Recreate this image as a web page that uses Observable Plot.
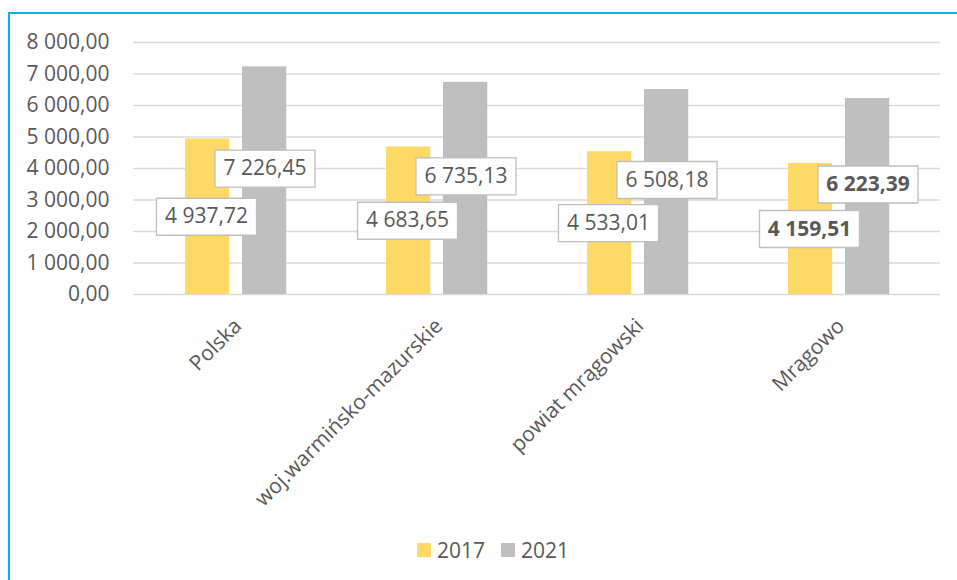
<!DOCTYPE html>
<html>
<head>
<meta charset="utf-8">
<script src="https://cdn.jsdelivr.net/npm/d3@7"></script>
<script src="https://cdn.jsdelivr.net/npm/@observablehq/plot@0.6"></script>
<style>
  html, body { margin: 0; padding: 0; background: #fff; }
  #wrap { position: relative; width: 957px; height: 580px; overflow: hidden; font-family: 'Open Sans', sans-serif; }
  #frame { position: absolute; left: 8px; top: 12px; width: 1000px; height: 600px; border: 2px solid #00b0f0; box-sizing: border-box; }
  #chart { position: absolute; left: 0; top: 0; }
  #legend { position: absolute; left: 417px; top: 536px; display: flex; align-items: center; font-size: 21px; color: #595959; line-height: 28px; }
  #legend .sw { width: 14px; height: 14px; display: inline-block; margin-right: 6px; }
  #legend .item { display: flex; align-items: center; margin-right: 16px; }
</style>
</head>
<body>
<div id="wrap">
  <div id="frame"></div>
  <div id="chart"></div>
  <div id="legend"></div>
</div>
<script>
const categories = ["Polska", "woj.warmińsko-mazurskie", "powiat mrągowski", "Mrągowo"];
const years = ["2017", "2021"];
const values2017 = [4937.72, 4683.65, 4533.01, 4159.51];
const values2021 = [7226.45, 6735.13, 6508.18, 6223.39];
const yTicks = [0, 1000, 2000, 3000, 4000, 5000, 6000, 7000, 8000];
const colors = ["#ffd966", "#bfbfbf"];
const boldCategories = ["Mrągowo"];

const locale = d3.formatLocale({decimal: ",", thousands: " ", grouping: [3], currency: ["", ""]});
const fmt = locale.format(",.2f");

const data = categories.flatMap((c, i) => [
  {cat: c, year: years[0], value: values2017[i]},
  {cat: c, year: years[1], value: values2021[i]}
]);

const textColor = "#595959";
const boxSymbol = { draw(ctx) { ctx.rect(-50, -18.5, 100, 37); } };

const marks = [
  Plot.ruleY(yTicks, {stroke: "#d9d9d9", strokeWidth: 1.3}),
  Plot.barY(data.filter(d => d.year === years[0]), {x: "cat", y: "value", fill: colors[0], insetLeft: 50, insetRight: 106.75}),
  Plot.barY(data.filter(d => d.year === years[1]), {x: "cat", y: "value", fill: colors[1], insetLeft: 107, insetRight: 49.75}),
  Plot.axisY({ticks: yTicks, tickFormat: fmt, tickSize: 0, tickPadding: 24, label: null, fontSize: 21, fill: textColor}),
  Plot.text(categories, {x: d => d, frameAnchor: "bottom", rotate: -45, textAnchor: "end", lineAnchor: "middle", dy: 28, dx: 2, fill: textColor, fontSize: 21})
];

years.forEach((yr, k) => {
  const sub = data.filter(d => d.year === yr);
  const dx = k === 0 ? -29.5 : 29;
  const dy = k === 0 ? 0 : -12;
  marks.push(Plot.dot(sub, {x: "cat", y: d => d.value / 2, dx, dy, symbol: boxSymbol, r: 10, fill: "white", stroke: "#bfbfbf", strokeWidth: 1.3}));
  marks.push(Plot.text(sub.filter(d => !boldCategories.includes(d.cat)), {x: "cat", y: d => d.value / 2, dx, dy, text: d => fmt(d.value), fill: textColor, fontSize: 21}));
  marks.push(Plot.text(sub.filter(d => boldCategories.includes(d.cat)), {x: "cat", y: d => d.value / 2, dx, dy, text: d => fmt(d.value), fill: textColor, fontSize: 21, fontWeight: "bold"}));
});

const chart = Plot.plot({
  width: 957,
  height: 520,
  marginLeft: 133,
  marginRight: 17,
  marginTop: 42,
  marginBottom: 226,
  style: {fontFamily: "'Open Sans', sans-serif", fontSize: "21px", color: textColor, background: "transparent"},
  x: {domain: categories, padding: 0, axis: null},
  y: {domain: [0, 8000], axis: null},
  marks
});
document.getElementById("chart").appendChild(chart);

const legend = document.getElementById("legend");
years.forEach((yr, k) => {
  const item = document.createElement("div");
  item.className = "item";
  const sw = document.createElement("span");
  sw.className = "sw";
  sw.style.background = colors[k];
  const t = document.createElement("span");
  t.textContent = yr;
  item.appendChild(sw);
  item.appendChild(t);
  legend.appendChild(item);
});
</script>
</body>
</html>
